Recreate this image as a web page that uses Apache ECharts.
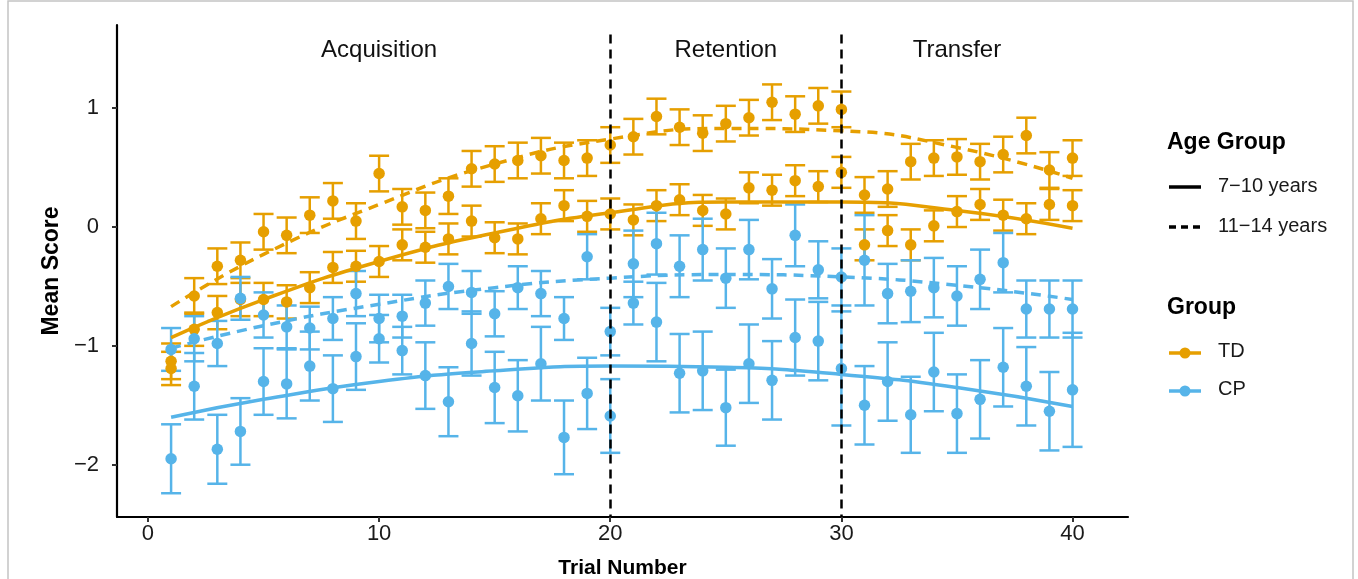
<!DOCTYPE html>
<html><head><meta charset="utf-8">
<script src="https://cdn.jsdelivr.net/npm/echarts@6/dist/echarts.min.js"></script>
<style>html,body{margin:0;padding:0;background:#fff}#c{width:1358px;height:579px}</style>
</head><body><div id="c"></div>
<script>
const trials = [1,2,3,4,5,6,7,8,9,10,11,12,13,14,15,16,17,18,19,20,21,22,23,24,25,26,27,28,29,30,31,32,33,34,35,36,37,38,39,40];
// TD 7-10 years (solid fit)
const tdYoung = [-1.19,-0.86,-0.72,-0.61,-0.61,-0.63,-0.51,-0.34,-0.33,-0.29,-0.15,-0.17,-0.10,0.05,-0.09,-0.10,0.07,0.18,0.09,0.11,0.06,0.18,0.23,0.14,0.11,0.33,0.31,0.39,0.34,0.46,-0.15,-0.03,-0.15,0.01,0.13,0.19,0.10,0.07,0.19,0.18];
const tdYoungErr = [0.14,0.14,0.14,0.14,0.14,0.14,0.13,0.13,0.13,0.13,0.13,0.13,0.13,0.13,0.13,0.13,0.13,0.13,0.13,0.13,0.13,0.13,0.13,0.13,0.13,0.13,0.13,0.13,0.13,0.13,0.13,0.13,0.13,0.13,0.13,0.13,0.13,0.13,0.13,0.13];
// TD 11-14 years (dashed fit)
const tdOld = [-1.13,-0.58,-0.33,-0.28,-0.04,-0.07,0.10,0.22,0.05,0.45,0.17,0.14,0.26,0.49,0.53,0.56,0.60,0.56,0.58,0.69,0.76,0.93,0.84,0.79,0.87,0.92,1.05,0.95,1.02,0.99,0.27,0.32,0.55,0.58,0.59,0.55,0.61,0.77,0.48,0.58];
const tdOldErr = [0.15,0.15,0.15,0.15,0.15,0.15,0.15,0.15,0.15,0.15,0.15,0.15,0.15,0.15,0.15,0.15,0.15,0.15,0.15,0.15,0.15,0.15,0.15,0.15,0.15,0.15,0.15,0.15,0.15,0.15,0.15,0.15,0.15,0.15,0.15,0.15,0.15,0.15,0.15,0.15];
// CP 7-10 years (solid fit)
const cpYoung = [-1.95,-1.34,-1.87,-1.72,-1.30,-1.32,-1.17,-1.36,-1.09,-0.94,-1.04,-1.25,-1.47,-0.98,-1.35,-1.42,-1.15,-1.77,-1.40,-1.59,-0.64,-0.80,-1.23,-1.21,-1.52,-1.15,-1.29,-0.93,-0.96,-1.19,-1.50,-1.30,-1.58,-1.22,-1.57,-1.45,-1.18,-1.34,-1.55,-1.37];
const cpYoungErr = [0.29,0.28,0.29,0.28,0.28,0.29,0.29,0.28,0.28,0.20,0.20,0.28,0.29,0.27,0.30,0.30,0.31,0.31,0.30,0.31,0.18,0.33,0.33,0.33,0.32,0.33,0.33,0.32,0.33,0.48,0.33,0.33,0.32,0.33,0.33,0.33,0.33,0.33,0.33,0.48];
// CP 11-14 years (dashed fit)
const cpOld = [-1.03,-0.94,-0.98,-0.60,-0.74,-0.84,-0.85,-0.77,-0.56,-0.77,-0.75,-0.64,-0.50,-0.55,-0.73,-0.51,-0.56,-0.77,-0.25,-0.88,-0.31,-0.14,-0.33,-0.19,-0.43,-0.19,-0.52,-0.07,-0.36,-0.42,-0.28,-0.56,-0.54,-0.51,-0.58,-0.44,-0.30,-0.69,-0.69,-0.69];
const cpOldErr = [0.18,0.19,0.19,0.18,0.19,0.18,0.18,0.18,0.19,0.20,0.18,0.19,0.19,0.18,0.19,0.18,0.19,0.18,0.19,0.20,0.28,0.26,0.26,0.26,0.25,0.25,0.25,0.26,0.24,0.24,0.38,0.25,0.26,0.25,0.25,0.25,0.25,0.24,0.24,0.24];
// fitted trend curves
const fitTrials = [1,5,10,15,20,25,30,35,40];
const fitTdYoung = [-0.93,-0.61,-0.29,-0.05,0.12,0.21,0.21,0.14,-0.01];
const fitTdOld = [-0.67,-0.23,0.19,0.53,0.74,0.83,0.81,0.67,0.41];
const fitCpYoung = [-1.60,-1.45,-1.30,-1.21,-1.17,-1.18,-1.24,-1.35,-1.51];
const fitCpOld = [-1.02,-0.83,-0.65,-0.51,-0.43,-0.40,-0.42,-0.49,-0.61];
const phaseNames = ['Acquisition','Retention','Transfer'];
const phaseCenters = [10,25,35];
const phaseBounds = [20,30];
const xTicks = [0,10,20,30,40];
const yTicks = [-2,-1,0,1];

const TD_COLOR = '#E69F00', CP_COLOR = '#56B4E9';
const FONT = '"Liberation Sans", Arial, Helvetica, sans-serif';

function errSeries(vals, errs, color){
  return {
    type:'custom', silent:true, z:2,
    renderItem:(p, api) => {
      const x = api.value(0), lo = api.value(1), hi = api.value(2);
      const a = api.coord([x, hi]), b = api.coord([x, lo]);
      const w = 10;
      const st = {stroke: color, lineWidth: 2.5};
      return {type:'group', children:[
        {type:'line', shape:{x1:a[0], y1:a[1], x2:b[0], y2:b[1]}, style:st},
        {type:'line', shape:{x1:a[0]-w, y1:a[1], x2:a[0]+w, y2:a[1]}, style:st},
        {type:'line', shape:{x1:b[0]-w, y1:b[1], x2:b[0]+w, y2:b[1]}, style:st}
      ]};
    },
    encode:{x:0, y:[1,2]},
    data: trials.map((t,i) => [t, vals[i]-errs[i], vals[i]+errs[i]])
  };
}
function pointSeries(vals, color){
  return {type:'scatter', silent:true, z:3, symbol:'circle', symbolSize:11.5,
    itemStyle:{color:color, opacity:1},
    data: trials.map((t,i) => [t, vals[i]])};
}
function fitSeries(vals, color, dashed){
  return {type:'line', silent:true, z:4, smooth:0.5, showSymbol:false, symbol:'none',
    lineStyle:{color:color, width:3.5, type: dashed ? [10,7] : 'solid', cap:'butt'},
    data: fitTrials.map((t,i) => [t, vals[i]])};
}
const minus = v => String(v).replace('-', '\u2212');

const chart = echarts.init(document.getElementById('c'), null, {renderer:'canvas'});
const legendX = 1167;
chart.setOption({
  animation:false,
  backgroundColor:'#fff',
  textStyle:{fontFamily:FONT},
  grid:{left:117, right:230, top:25, bottom:62, containLabel:false, outerBoundsMode:'none'},
  xAxis:{
    type:'value', min:-1.34, max:42.4,
    axisLine:{show:true, onZero:false, lineStyle:{color:'#000', width:2.2}},
    axisTick:{show:true, length:5, lineStyle:{color:'#333', width:2}, customValues:xTicks},
    axisLabel:{show:true, fontSize:22, color:'#1a1a1a', margin:6, fontFamily:FONT, customValues:xTicks, formatter:minus},
    splitLine:{show:false},
    name:'Trial Number', nameLocation:'middle', nameGap:41,
    nameTextStyle:{fontSize:21, fontWeight:'bold', color:'#000', fontFamily:FONT}
  },
  yAxis:{
    type:'value', min:-2.44, max:1.70,
    axisLine:{show:true, onZero:false, lineStyle:{color:'#000', width:2.2}},
    axisTick:{show:true, length:5, lineStyle:{color:'#333', width:2}, customValues:yTicks},
    axisLabel:{show:true, fontSize:22, color:'#1a1a1a', margin:18, fontFamily:FONT, customValues:yTicks, formatter:minus},
    splitLine:{show:false},
    name:'Mean Score', nameLocation:'middle', nameGap:46, nameRotate:90,
    nameTextStyle:{fontSize:23, fontWeight:'bold', color:'#000', fontFamily:FONT}
  },
  series:[
    errSeries(tdOld, tdOldErr, TD_COLOR),
    errSeries(tdYoung, tdYoungErr, TD_COLOR),
    pointSeries(tdOld, TD_COLOR),
    pointSeries(tdYoung, TD_COLOR),
    errSeries(cpOld, cpOldErr, CP_COLOR),
    errSeries(cpYoung, cpYoungErr, CP_COLOR),
    pointSeries(cpOld, CP_COLOR),
    pointSeries(cpYoung, CP_COLOR),
    fitSeries(fitTdYoung, TD_COLOR, false),
    fitSeries(fitTdOld, TD_COLOR, true),
    fitSeries(fitCpYoung, CP_COLOR, false),
    fitSeries(fitCpOld, CP_COLOR, true),
    {type:'scatter', silent:true, z:6, symbolSize:0,
      itemStyle:{opacity:1},
      data: phaseNames.map((n,i) => [phaseCenters[i], 1.49, n]),
      label:{show:true, position:'inside', formatter:p => p.value[2], fontSize:24, color:'#111', opacity:1,
        textBorderWidth:0, fontFamily:FONT},
      markLine:{silent:true, symbol:['none','none'], label:{show:false}, z:7,
        lineStyle:{color:'#000', width:2.5, type:[9,6], opacity:1},
        data: phaseBounds.map(b => [{coord:[b, 1.62]}, {coord:[b, -2.44]}])}
    }
  ],
  graphic:[
    {type:'rect', shape:{x:8, y:1, width:1345, height:620}, style:{fill:'none', stroke:'#c4c4c4', lineWidth:1.5}, silent:true},
    {type:'text', left:legendX, top:131, style:{text:'Age Group', font:'bold 23px ' + FONT, fill:'#000'}},
    {type:'line', shape:{x1:1169, y1:187, x2:1201, y2:187}, style:{stroke:'#000', lineWidth:3.5}},
    {type:'text', left:1218, top:176, style:{text:'7\u221210 years', font:'20px ' + FONT, fill:'#1a1a1a'}},
    {type:'line', shape:{x1:1169, y1:227, x2:1203, y2:227}, style:{stroke:'#000', lineWidth:3.5, lineDash:[7,5]}},
    {type:'text', left:1218, top:216, style:{text:'11\u221214 years', font:'20px ' + FONT, fill:'#1a1a1a'}},
    {type:'text', left:legendX, top:296, style:{text:'Group', font:'bold 23px ' + FONT, fill:'#000'}},
    {type:'line', shape:{x1:1169, y1:353, x2:1201, y2:353}, style:{stroke:TD_COLOR, lineWidth:3.5}},
    {type:'circle', shape:{cx:1185, cy:353, r:5.5}, style:{fill:TD_COLOR}},
    {type:'text', left:1218, top:341, style:{text:'TD', font:'20px ' + FONT, fill:'#1a1a1a'}},
    {type:'line', shape:{x1:1169, y1:391, x2:1201, y2:391}, style:{stroke:CP_COLOR, lineWidth:3.5}},
    {type:'circle', shape:{cx:1185, cy:391, r:5.5}, style:{fill:CP_COLOR}},
    {type:'text', left:1218, top:379, style:{text:'CP', font:'20px ' + FONT, fill:'#1a1a1a'}}
  ]
});
</script></body></html>
